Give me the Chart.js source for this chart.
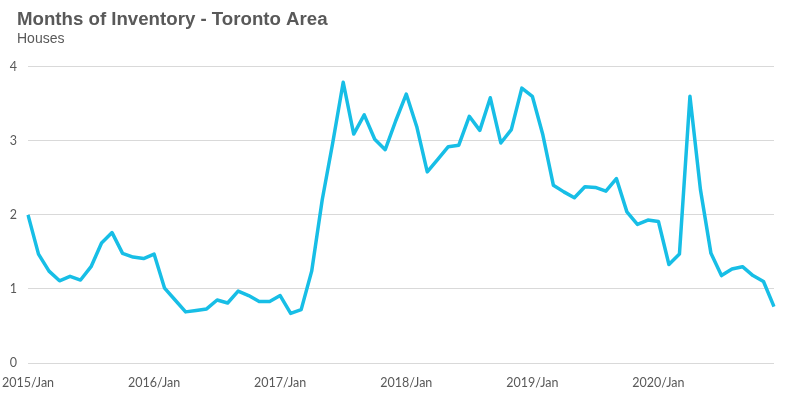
<!DOCTYPE html>
<html>
<head>
<meta charset="utf-8">
<script src="https://cdn.jsdelivr.net/npm/chart.js@4/dist/chart.umd.min.js"></script>
<style>
  html, body { margin: 0; padding: 0; background: #ffffff; }
  #wrap { width: 785px; height: 398px; position: relative; }
</style>
</head>
<body>
<div id="wrap"><canvas id="c" width="785" height="398"></canvas></div>
<script>
const titleText = "Months of Inventory - Toronto Area";
const subtitleText = "Houses";
const years = ["2015", "2016", "2017", "2018", "2019", "2020"];
const months = ["Jan","Feb","Mar","Apr","May","Jun","Jul","Aug","Sep","Oct","Nov","Dec"];
const inventory = [
  2.00, 1.47, 1.24, 1.11, 1.17, 1.12, 1.30, 1.62, 1.76, 1.48, 1.43, 1.41,
  1.47, 1.01, 0.85, 0.69, 0.71, 0.73, 0.85, 0.81, 0.97, 0.91, 0.83, 0.83,
  0.91, 0.67, 0.72, 1.24, 2.20, 2.97, 3.79, 3.09, 3.35, 3.02, 2.88, 3.27,
  3.63, 3.19, 2.58, 2.75, 2.92, 2.94, 3.33, 3.14, 3.58, 2.97, 3.15, 3.71,
  3.60, 3.08, 2.40, 2.31, 2.23, 2.38, 2.37, 2.32, 2.49, 2.04, 1.87, 1.93,
  1.91, 1.33, 1.47, 3.60, 2.34, 1.48, 1.18, 1.27, 1.30, 1.18, 1.10, 0.76
];
const yMin = 0;
const yMax = 4;
const yStep = 1;

const labels = [];
years.forEach(y => months.forEach(m => labels.push(y + "/" + m)));

const textColor = "#595959";
const gridColor = "#d9d9d9";
const lineColor = "#17bee6";

new Chart(document.getElementById("c"), {
  type: "line",
  data: {
    labels: labels.slice(0, inventory.length),
    datasets: [{
      data: inventory,
      borderColor: lineColor,
      borderWidth: 3.5,
      pointRadius: 0,
      pointHoverRadius: 0,
      tension: 0,
      fill: false,
      borderJoinStyle: "round"
    }]
  },
  options: {
    responsive: false,
    animation: false,
    devicePixelRatio: 1,
    layout: { padding: { left: 17, right: 11, top: 0, bottom: 0 } },
    plugins: {
      legend: { display: false },
      tooltip: { enabled: false },
      title: {
        display: true,
        text: titleText,
        align: "start",
        color: textColor,
        font: { family: "'Liberation Sans', Arial, sans-serif", size: 18.67, weight: "bold", lineHeight: 1 },
        padding: { top: 11, bottom: 0 }
      },
      subtitle: {
        display: true,
        text: subtitleText,
        align: "start",
        color: textColor,
        font: { family: "'Liberation Sans', Arial, sans-serif", size: 14, weight: "normal", lineHeight: 1 },
        padding: { top: 2, bottom: 21 }
      }
    },
    scales: {
      x: {
        offset: false,
        grid: { display: false, drawTicks: false },
        border: { display: false },
        afterFit: function(s) { s.paddingLeft = 0; s.paddingRight = 0; s.height = 35; },
        ticks: {
          autoSkip: false,
          maxRotation: 0,
          minRotation: 0,
          padding: 12,
          color: textColor,
          font: { family: "Lato, 'Open Sans', sans-serif", size: 12.5 },
          callback: function(v, i) { return i % 12 === 0 ? labels[i] : ""; }
        }
      },
      y: {
        min: yMin,
        max: yMax,
        afterFit: function(s) {
          s.width = 11;
          s._computeLabelArea = function() { return undefined; };
        },
        grid: { color: gridColor, lineWidth: 1, drawTicks: false },
        border: { display: false },
        ticks: {
          stepSize: yStep,
          padding: 11,
          color: textColor,
          font: { family: "Lato, 'Open Sans', sans-serif", size: 12.5 }
        }
      }
    }
  }
});
</script>
</body>
</html>
